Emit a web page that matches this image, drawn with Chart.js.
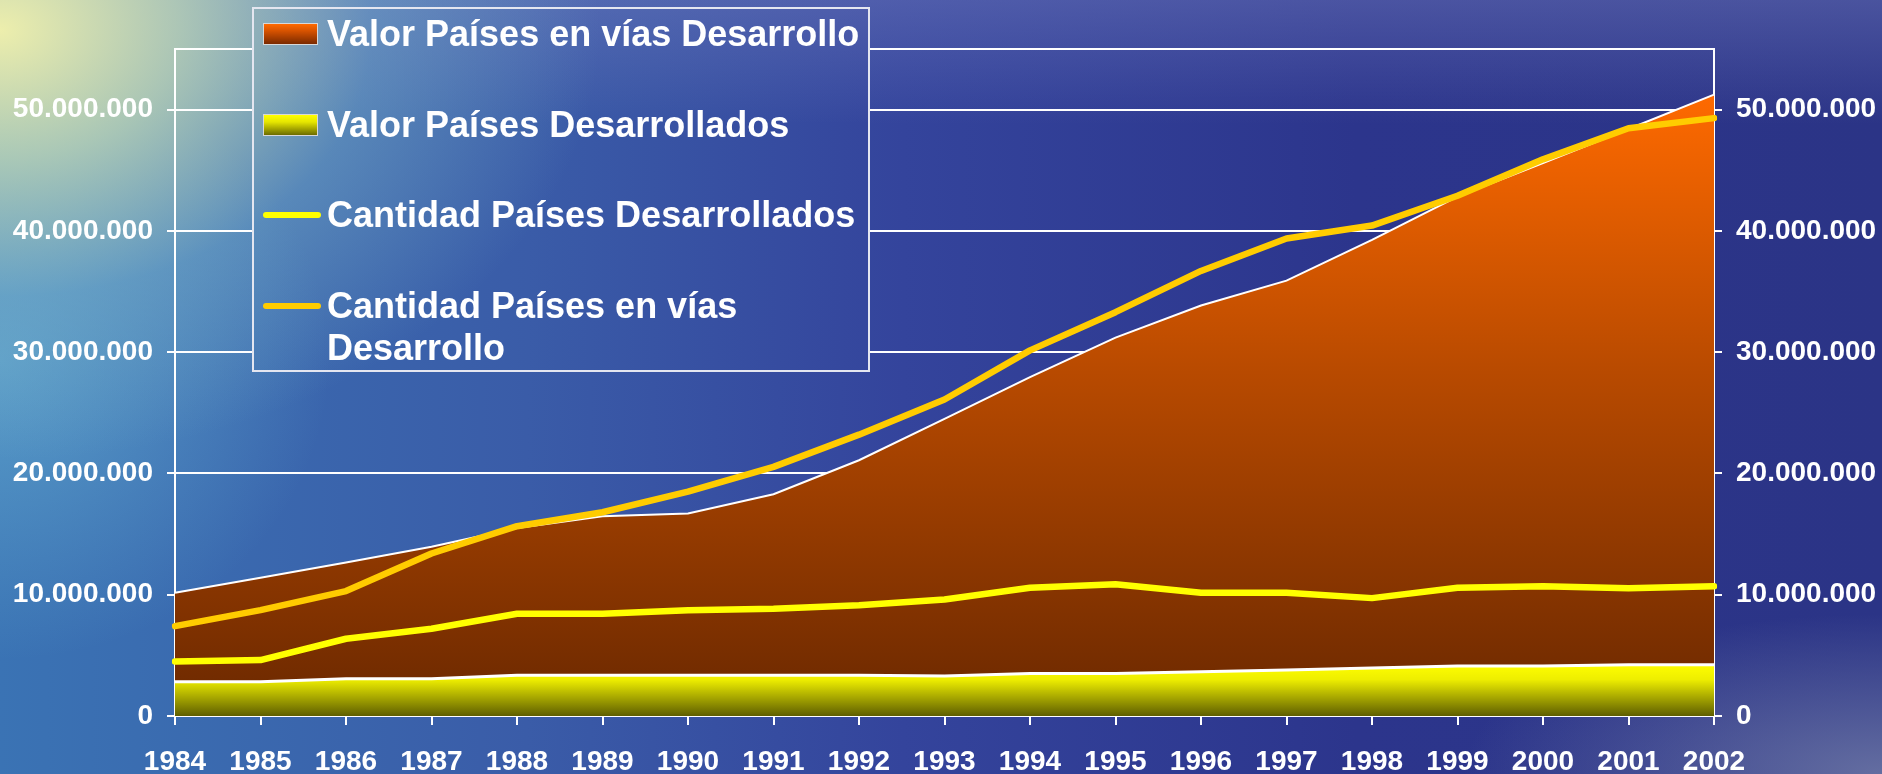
<!DOCTYPE html>
<html><head><meta charset="utf-8">
<script src="https://cdn.jsdelivr.net/npm/chart.js@4.4.0/dist/chart.umd.min.js"></script>
<style>
:root{
  --bg:
    radial-gradient(ellipse 600px 430px at 0px 30px, rgba(242,242,172,0.97) 0%, rgba(195,218,182,0.8) 30%, rgba(125,178,200,0.45) 62%, rgba(100,160,205,0) 100%),
    radial-gradient(ellipse 330px 300px at 0px 360px, rgba(110,185,215,0.6) 0%, rgba(100,170,210,0) 100%),
    radial-gradient(ellipse 420px 160px at 1882px 774px, rgba(130,140,175,0.65) 0%, rgba(130,140,175,0) 100%),
    linear-gradient(180deg, rgba(120,130,195,0.4) 0%, rgba(110,120,190,0) 16%),
    linear-gradient(90deg, #3a73b4 0%, #3a5ca8 28%, #34449c 48%, #2c358c 72%, #2b3486 100%);
}
html,body{margin:0;padding:0;}
body{width:1882px;height:774px;overflow:hidden;position:relative;background:var(--bg);background-size:1882px 774px;font-family:"Liberation Sans",Arial,sans-serif;}
#wrap{position:absolute;left:0;top:0;width:1882px;height:774px;}
#legend{position:absolute;left:252px;top:7px;width:618px;height:365px;box-sizing:border-box;border:2px solid #e4e6f0;background:var(--bg);background-size:1882px 774px;background-position:-254px -9px;}
.sw{position:absolute;box-sizing:border-box;}
.tx{position:absolute;color:#fff;font-weight:bold;font-size:36px;line-height:42px;width:545px;white-space:normal;}
</style>
</head><body>
<div id="wrap"><canvas id="c" width="1882" height="774"></canvas></div>
<div id="legend"></div>
<script>
const years = ['1984','1985','1986','1987','1988','1989','1990','1991','1992','1993','1994','1995','1996','1997','1998','1999','2000','2001','2002'];
const valorEnVias = [10160000,11400000,12660000,13950000,15500000,16470000,16700000,18290000,21090000,24500000,27950000,31200000,33850000,35900000,39260000,42830000,45600000,48400000,51240000];
const valorDesarrollados = [2830000,2830000,3070000,3070000,3350000,3350000,3350000,3350000,3350000,3290000,3510000,3510000,3650000,3790000,3950000,4120000,4120000,4230000,4230000];
const cantidadDesarrollados = [4500000,4610000,6370000,7190000,8430000,8430000,8730000,8840000,9140000,9610000,10570000,10870000,10160000,10160000,9720000,10570000,10700000,10540000,10700000];
const cantidadEnVias = [7410000,8730000,10300000,13400000,15650000,16800000,18500000,20540000,23200000,26100000,30150000,33300000,36700000,39370000,40440000,42900000,45900000,48460000,49300000];
const yTicks = [0,10000000,20000000,30000000,40000000,50000000,55000000];
const seriesNames = ['Valor Países en vías Desarrollo','Valor Países Desarrollados','Cantidad Países Desarrollados','Cantidad Países en vías Desarrollo'];

function fmt(v){ return v===0 ? '0' : String(v).replace(/\B(?=(\d{3})+(?!\d))/g,'.'); }

function orangeFill(ctx){
  const ch = ctx.chart, a = ch.chartArea;
  if(!a) return '#a04000';
  const y = ch.scales.y;
  const g = ch.ctx.createLinearGradient(0, y.getPixelForValue(51500000), 0, y.getPixelForValue(0));
  g.addColorStop(0, '#ff6a00');
  g.addColorStop(0.45, '#b84a00');
  g.addColorStop(1, '#6a2800');
  return g;
}
function yellowFill(ctx){
  const ch = ctx.chart, a = ch.chartArea;
  if(!a) return '#cccc00';
  const y = ch.scales.y;
  const g = ch.ctx.createLinearGradient(0, y.getPixelForValue(4300000), 0, y.getPixelForValue(0));
  g.addColorStop(0, '#ffff00');
  g.addColorStop(0.3, '#eeee00');
  g.addColorStop(1, '#5e5e00');
  return g;
}

const font = {family:'"Liberation Sans", Arial, sans-serif', size:28, weight:'bold'};
function setTicks(s){ s.ticks = yTicks.map(v=>({value:v})); }

const yCommon = {
  type:'linear', min:0, max:55000000,
  afterBuildTicks:setTicks,
  border:{display:true,color:'#ffffff',width:2},
  ticks:{color:'#ffffff',font:font,padding:14,callback:(v)=> v===55000000 ? '' : fmt(v)},
};

new Chart(document.getElementById('c'), {
  type:'line',
  data:{
    labels:years,
    datasets:[
      {label:seriesNames[2], data:cantidadDesarrollados, yAxisID:'y2', borderColor:'#ffff00', borderWidth:6.5, pointRadius:0, fill:false, order:0, borderCapStyle:'round', borderJoinStyle:'round', tension:0},
      {label:seriesNames[3], data:cantidadEnVias, yAxisID:'y2', borderColor:'#ffcc00', borderWidth:6.5, pointRadius:0, fill:false, order:1, borderCapStyle:'round', borderJoinStyle:'round', tension:0},
      {label:seriesNames[1], data:valorDesarrollados, yAxisID:'y', borderColor:'#ffffff', borderWidth:3, backgroundColor:yellowFill, pointRadius:0, fill:'origin', order:2, tension:0},
      {label:seriesNames[0], data:valorEnVias, yAxisID:'y', borderColor:'#ffffff', borderWidth:2, backgroundColor:orangeFill, pointRadius:0, fill:'origin', order:3, tension:0}
    ]
  },
  options:{
    responsive:false, animation:false, devicePixelRatio:1,
    layout:{padding:{top:49,left:0,right:0,bottom:0}},
    plugins:{legend:{display:false}, tooltip:{enabled:false}},
    scales:{
      x:{
        type:'category', offset:false,
        afterFit:(s)=>{ s.height = 58; },
        grid:{display:true, drawOnChartArea:false, drawTicks:true, tickLength:9, color:'#ffffff', lineWidth:2},
        border:{display:true,color:'#ffffff',width:2},
        ticks:{color:'#ffffff', font:font, padding:20, maxRotation:0, autoSkip:false}
      },
      y:Object.assign({}, yCommon, {
        position:'left',
        afterFit:(s)=>{ s.width = 175; },
        grid:{color:'#ffffff', lineWidth:2, tickLength:8, tickColor:(c)=> (c.tick && c.tick.value===55000000) ? 'rgba(0,0,0,0)' : '#ffffff'}
      }),
      y2:Object.assign({}, yCommon, {
        position:'right',
        afterFit:(s)=>{ s.width = 168; },
        grid:{drawOnChartArea:false, color:'#ffffff', lineWidth:2, tickLength:8, tickColor:(c)=> (c.tick && c.tick.value===55000000) ? 'rgba(0,0,0,0)' : '#ffffff'}
      })
    }
  }
});

// HTML legend (legend box inner origin is page (254, 9))
const lg = document.getElementById('legend');
const legendRows = [
  {name:seriesNames[0], kind:'rect', grad:'linear-gradient(180deg,#ff6a00 0%,#d65200 35%,#7a2a00 100%)', cy:34},
  {name:seriesNames[1], kind:'rect', grad:'linear-gradient(180deg,#ffff00 0%,#e6e600 35%,#6b6b00 100%)', cy:125},
  {name:seriesNames[2], kind:'line', color:'#ffff00', cy:215},
  {name:seriesNames[3], kind:'line', color:'#ffcc00', cy:306}
];
legendRows.forEach(r=>{
  const sw = document.createElement('div');
  sw.className='sw';
  if(r.kind==='rect'){
    sw.style.left=(263-254)+'px'; sw.style.top=(r.cy-11-9)+'px';
    sw.style.width='55px'; sw.style.height='22px';
    sw.style.background=r.grad; sw.style.border='1px solid #d8d8d8';
  } else {
    sw.style.left=(263-254)+'px'; sw.style.top=(r.cy-3-9)+'px';
    sw.style.width='58px'; sw.style.height='6px';
    sw.style.background=r.color; sw.style.borderRadius='3px';
  }
  lg.appendChild(sw);
  const t = document.createElement('div');
  t.className='tx';
  t.textContent=r.name;
  t.style.left=(327-254)+'px';
  t.style.top=(r.cy-21-9)+'px';
  lg.appendChild(t);
});
</script>
</body></html>
